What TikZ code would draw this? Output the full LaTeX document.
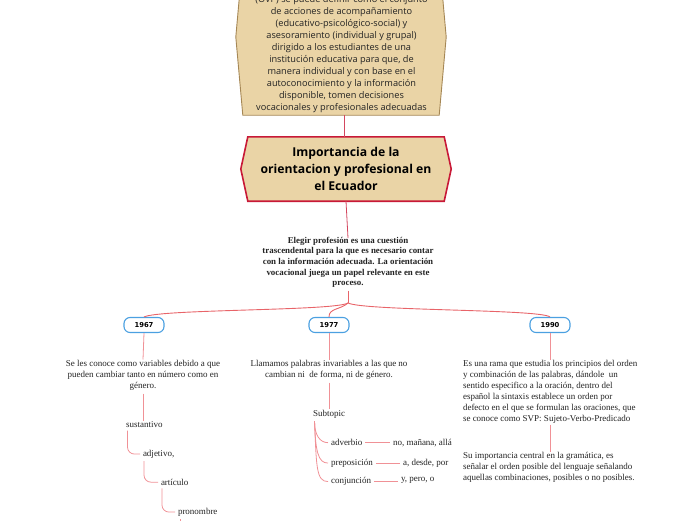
\documentclass[tikz,border=0pt]{standalone}
\usepackage{fontspec}
\setmainfont{Liberation Serif}
\newfontfamily\osans{Open Sans}
\newfontfamily\dvsans{DejaVu Sans}
\usetikzlibrary{backgrounds}
\definecolor{tanfill}{RGB}{234,212,166}
\definecolor{tanedge}{RGB}{165,135,85}
\definecolor{crim}{RGB}{200,25,55}
\definecolor{lnk}{RGB}{232,100,105}
\definecolor{sublnk}{RGB}{240,145,150}
\definecolor{yr}{RGB}{75,160,225}
\definecolor{ink}{RGB}{35,35,35}
\begin{document}
\begin{tikzpicture}[x=1pt,y=-1pt,
  txt/.style={font=\fontsize{9}{11}\selectfont, text=ink, inner xsep=0, inner ysep=3, outer sep=0},
  ctxt/.style={font=\bfseries\fontsize{8.9}{10.6}\selectfont, text=ink, align=center, inner xsep=0, inner ysep=3, outer sep=0},
  deftxt/.style={font=\osans\fontsize{9.2}{12}\selectfont, text=ink, align=center, inner sep=0},
  title/.style={font=\osans\bfseries\fontsize{12.2}{17}\selectfont, text=black, align=center, inner sep=0},
  year/.style={draw=yr, line width=1.1, fill=white, rounded corners=6, minimum width=40, minimum height=15, inner sep=0, font=\dvsans\bfseries\fontsize{6.8}{8}\selectfont, text=black},
  toplnk/.style={draw=crim!80, line width=0.8},
  lnk/.style={draw=lnk, line width=0.9},
  sublnk/.style={draw=sublnk, line width=0.8},
]
\useasboundingbox (0,0) rectangle (696,520);
\clip (0,0) rectangle (696,520);

% top definition box
\node[minimum width=210, minimum height=156, inner sep=0] (def) at (341,37) {};
\node[deftxt, anchor=south] (deftext) at (341.5,112.5) {(OVP) se puede definir como el conjunto\\de acciones de acompañamiento\\(educativo-psicológico-social) y\\asesoramiento (individual y grupal)\\dirigido a los estudiantes de una\\institución educativa para que, de\\manera individual y con base en el\\autoconocimiento y la información\\disponible, tomen decisiones\\vocacionales y profesionales adecuadas};

% main title
\node[title, minimum width=210, minimum height=64] (main) at (346,169) {Importancia de la\\orientacion y profesional en\\el Ecuador};

\begin{scope}[on background layer]
\path[fill=tanfill, draw=tanedge, line width=0.9] ([xshift=7]def.north west) -- ([xshift=-7]def.north east) -- (def.east) -- ([xshift=-7]def.south east) -- ([xshift=7]def.south west) -- (def.west) -- cycle;
\path[fill=tanfill, draw=crim, line width=1.6] ([xshift=7]main.north west) -- ([xshift=-7]main.north east) -- (main.east) -- ([xshift=-7]main.south east) -- ([xshift=7]main.south west) -- (main.west) -- cycle;
\end{scope}

\draw[toplnk] ([xshift=-2]main.north) -- ([xshift=-2]main.north |- def.south);

% central text
\node[ctxt, anchor=north] (central) at (348,234) {Elegir profesión es una cuestión\\trascendental para la que es necesario contar\\con la información adecuada. La orientación\\vocacional juega un papel relevante en este\\proceso.};
\draw[toplnk] (main.south) -- ([yshift=-4]central.north);
\coordinate (hub) at (348,303);
\draw[lnk] (central.south) -- (hub);

% years
\node[year] (y67) at (144,325) {1967};
\node[year] (y77) at (329,325) {1977};
\node[year] (y90) at (550,325) {1990};
\draw[lnk] (hub) .. controls (335,311) and (160,309) .. (y67.north);
\draw[lnk] (hub) .. controls (340,310) and (329,308) .. (y77.north);
\draw[lnk] (hub) .. controls (365,311) and (540,309) .. (y90.north);

% 1967 branch
\node[txt, align=center, anchor=north] (t67) at (143,357.5) {Se les conoce como variables debido a que\\pueden cambiar tanto en número como en\\género.};
\draw[sublnk] (y67.south) -- ([yshift=-2]t67.north);
\node[txt, anchor=north west] (sust) at (126,418.5) {sustantivo};
\draw[sublnk] (t67.south) -- ([yshift=-2]t67.south |- sust.north);
\node[txt, anchor=north west] (adj) at (143,447) {adjetivo,};
\node[txt, anchor=north west] (art) at (161,476) {artículo};
\node[txt, anchor=north west] (pron) at (178,505) {pronombre};
\coordinate (pnext) at (180,535);
\draw[sublnk, rounded corners=7] ([xshift=1.5]sust.south west) |- ([xshift=-3]adj.west);
\draw[sublnk, rounded corners=7] ([xshift=1]adj.south west) |- ([xshift=-3]art.west);
\draw[sublnk, rounded corners=7] ([xshift=1]art.south west) |- ([xshift=-3]pron.west);
\draw[sublnk] ([xshift=2]pron.south west) -- (pnext);

% 1977 branch
\node[txt, align=center, anchor=north] (t77) at (329,357.5) {Llamamos palabras invariables a las que no\\cambian ni\ \ de forma, ni de género.};
\draw[sublnk] (y77.south) -- ([yshift=-2]t77.north);
\node[txt, anchor=north west] (subt) at (313,407) {Subtopic};
\draw[sublnk] (t77.south) -- ([yshift=-2]t77.south |- subt.north);
\node[txt, anchor=north west] (adv) at (331,436.5) {adverbio};
\node[txt, anchor=north west] (prep) at (331,456) {preposición};
\node[txt, anchor=north west] (conj) at (331,474.5) {conjunción};
\draw[sublnk] ([xshift=1.5]subt.south west) .. controls +(0,14) and +(-8,0) .. ([xshift=-3]adv.west);
\draw[sublnk] ([xshift=1.5]subt.south west) .. controls +(1,30) and +(-10,0) .. ([xshift=-3]prep.west);
\draw[sublnk] ([xshift=1.5]subt.south west) .. controls +(2,45) and +(-12,0) .. ([xshift=-3]conj.west);
\node[txt, anchor=north west] (advl) at (393,436.5) {no, mañana, allá};
\node[txt, anchor=north west] (prepl) at (403,456) {a, desde, por};
\node[txt, anchor=north west] (conjl) at (401,474.5) {y, pero, o};
\draw[sublnk, shorten <=3, shorten >=3] (adv.east) -- (adv.east -| advl.west);
\draw[sublnk, shorten <=3, shorten >=3] (prep.east) -- (prep.east -| prepl.west);
\draw[sublnk, shorten <=3, shorten >=3] (conj.east) -- (conj.east -| conjl.west);

% 1990 branch
\node[txt, align=left, anchor=north west] (t90a) at (463,357.5) {Es una rama que estudia los principios del orden\\y combinación de las palabras, dándole\ \ un\\sentido especifico a la oración, dentro del\\español la sintaxis establece un orden por\\defecto en el que se formulan las oraciones, que\\se conoce como SVP: Sujeto-Verbo-Predicado};
\draw[sublnk] (y90.south) -- ([yshift=-2]y90.south |- t90a.north);
\node[txt, align=left, anchor=north west] (t90b) at (463,449.5) {Su importancia central en la gramática, es\\señalar el orden posible del lenguaje señalando\\aquellas combinaciones, posibles o no posibles.};
\draw[sublnk] ([yshift=2]y90.south |- t90a.south) -- ([yshift=-2]y90.south |- t90b.north);
\end{tikzpicture}
\end{document}
